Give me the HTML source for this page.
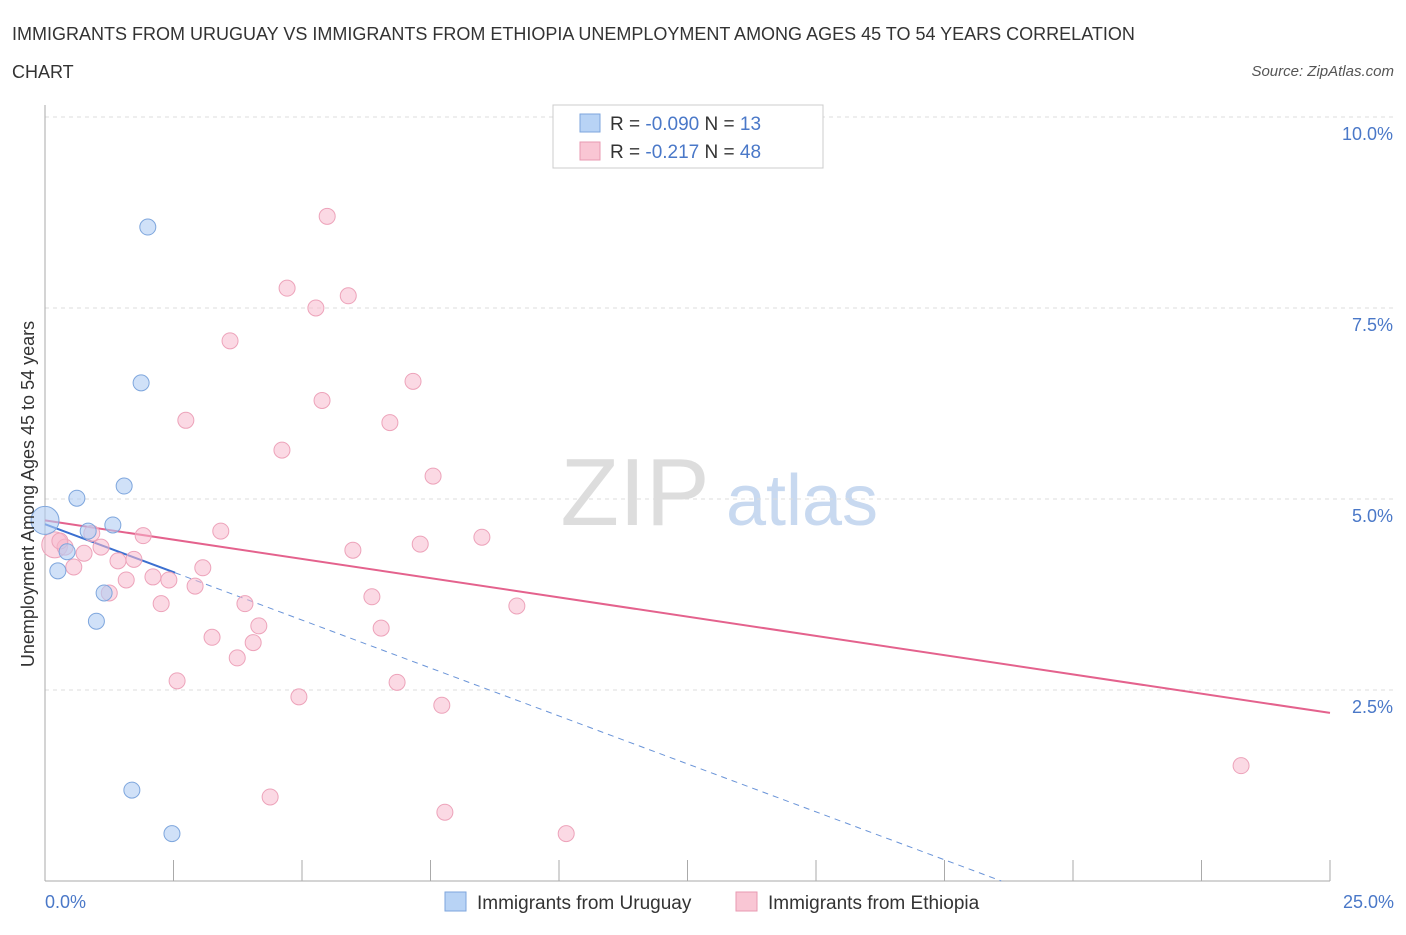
<!DOCTYPE html>
<html><head><meta charset="utf-8"><style>
body{margin:0;background:#fff;font-family:"Liberation Sans",sans-serif;}
svg text{font-family:"Liberation Sans",sans-serif;}
</style></head><body>
<svg width="1406" height="930" id="chart">
<text x="12" y="40" font-size="18" fill="#333">IMMIGRANTS FROM URUGUAY VS IMMIGRANTS FROM ETHIOPIA UNEMPLOYMENT AMONG AGES 45 TO 54 YEARS CORRELATION</text>
<text x="12" y="78" font-size="18" fill="#333">CHART</text>
<text x="1394" y="76" font-size="15" fill="#555" font-style="italic" text-anchor="end">Source: ZipAtlas.com</text>
<text x="635" y="525" font-size="96" fill="#ddd" font-family="Liberation Serif" text-anchor="middle">ZIP</text>
<text x="802" y="525" font-size="72" fill="#c8d9f0" text-anchor="middle">atlas</text>
<g id="grid"></g><g id="axes"></g><g id="trend"></g><g id="pts"></g>
<text transform="translate(34,494) rotate(-90)" font-size="18" fill="#333" text-anchor="middle">Unemployment Among Ages 45 to 54 years</text>
<text x="45" y="908" font-size="18" fill="#4a78c8">0.0%</text>
<text x="1394" y="908" font-size="18" fill="#4a78c8" text-anchor="end">25.0%</text>
<g>
<rect x="553" y="105" width="270" height="63" fill="#fff" stroke="#ccc"/>
<rect x="580" y="114" width="20" height="18" fill="#b8d3f5" stroke="#7ea6dd"/>
<rect x="580" y="142" width="20" height="18" fill="#f9c6d4" stroke="#e89ab2"/>
<text x="610" y="130" font-size="19" fill="#333">R = <tspan fill="#4a78c8">-0.090</tspan>   N = <tspan fill="#4a78c8"> 13</tspan></text>
<text x="610" y="158" font-size="19" fill="#333">R =  <tspan fill="#4a78c8"> -0.217</tspan>   N = <tspan fill="#4a78c8">48</tspan></text>
</g>
<g>
<rect x="445" y="892" width="21" height="19" fill="#b8d3f5" stroke="#7ea6dd"/>
<text x="477" y="909" font-size="19" fill="#333">Immigrants from Uruguay</text>
<rect x="736" y="892" width="21" height="19" fill="#f9c6d4" stroke="#e89ab2"/>
<text x="768" y="909" font-size="19" fill="#333">Immigrants from Ethiopia</text>
</g>
</svg>
<script>
const yTicks=[2.5,5.0,7.5,10.0];
const yTickLabels=["2.5%","5.0%","7.5%","10.0%"];
const xTicks=[0,2.5,5,7.5,10,12.5,15,17.5,20,22.5,25];
const uruguayX=[2.0,1.87,1.54,0.62,1.32,0.84,0,0.43,0.25,1.15,1.0,1.69,2.47];
const uruguayY=[8.56,6.52,5.17,5.01,4.66,4.58,4.72,4.31,4.06,3.77,3.40,1.19,0.62];
const ethiopiaX=[5.49,4.71,5.90,5.27,3.60,7.16,5.39,2.74,6.71,4.61,7.55,3.42,1.91,8.50,7.30,5.99,0.19,1.09,0.76,0.39,1.73,1.42,0.56,3.07,2.10,1.58,2.41,2.92,1.25,6.36,3.89,2.26,9.18,4.16,6.54,3.25,4.05,3.74,2.57,6.85,4.94,7.72,23.27,4.38,7.78,10.14,0.91,0.29];
const ethiopiaY=[8.70,7.76,7.66,7.50,7.07,6.54,6.29,6.03,6.00,5.64,5.30,4.58,4.52,4.50,4.41,4.33,4.40,4.37,4.29,4.37,4.21,4.19,4.11,4.10,3.98,3.94,3.94,3.86,3.77,3.72,3.63,3.63,3.60,3.34,3.31,3.19,3.12,2.92,2.62,2.60,2.41,2.30,1.51,1.10,0.90,0.62,4.55,4.45];
const uruguayTrend=[4.67,-0.251];
const ethiopiaTrend=[4.72,-0.1008];
const X=v=>45+v*51.4, Y=v=>881-v*76.4;
const NS="http://www.w3.org/2000/svg";
function mk(t,a,p){const e=document.createElementNS(NS,t);for(const k in a)e.setAttribute(k,a[k]);p.appendChild(e);return e;}
const grid=document.getElementById('grid'),axes=document.getElementById('axes'),tr=document.getElementById('trend'),pts=document.getElementById('pts');
yTicks.forEach((v,i)=>{
 const l=mk('line',{x1:45,x2:1394,y1:Y(v),y2:Y(v),stroke:'#ddd','stroke-dasharray':'4,4'},grid);
 
 
 const t=mk('text',{x:1393,y:Y(v)+23,'font-size':18,fill:'#4a78c8','text-anchor':'end'},grid);
 t.textContent=yTickLabels[i];
 
 
});
const ya=mk('line',{x1:45,x2:45,y1:105,y2:881,stroke:'#aaa'},axes);


const xa=mk('line',{x1:45,x2:1330,y1:881,y2:881,stroke:'#aaa'},axes);


xTicks.forEach(v=>{const t=mk('line',{x1:X(v),x2:X(v),y1:860,y2:881,stroke:'#aaa'},axes);
 
 });
const uEnd=2.53, uZero=-uruguayTrend[0]/uruguayTrend[1];
let l1=mk('line',{x1:X(0),y1:Y(uruguayTrend[0]),x2:X(uEnd),y2:Y(uruguayTrend[0]+uruguayTrend[1]*uEnd),stroke:'#3b6fd0','stroke-width':2},tr);


let l2=mk('line',{x1:X(uEnd),y1:Y(uruguayTrend[0]+uruguayTrend[1]*uEnd),x2:X(uZero),y2:Y(0),stroke:'#6a94d8','stroke-width':1,'stroke-dasharray':'6,5'},tr);


let l3=mk('line',{x1:X(0),y1:Y(ethiopiaTrend[0]),x2:X(25),y2:Y(ethiopiaTrend[0]+ethiopiaTrend[1]*25),stroke:'#e4628d','stroke-width':2},tr);


ethiopiaX.forEach((x,i)=>{const c=mk('circle',{cx:X(x),cy:Y(ethiopiaY[i]),r:(i==16?13:8),fill:'rgba(248,186,205,0.55)',stroke:'#eda3ba','stroke-width':1},pts);
 
 });
uruguayX.forEach((x,i)=>{const c=mk('circle',{cx:X(x),cy:Y(uruguayY[i]),r:(i==6?14:8),fill:'rgba(176,205,243,0.6)',stroke:'#7ea6dd','stroke-width':1},pts);
 
 });
</script>
</body></html>
